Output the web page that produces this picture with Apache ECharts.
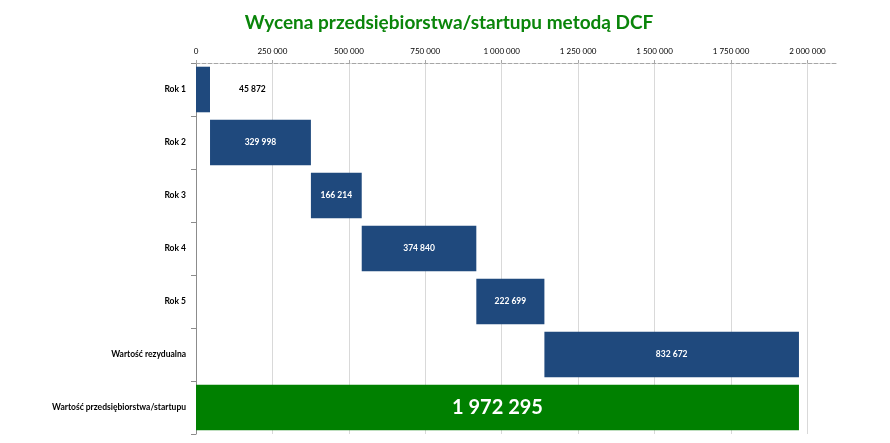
<!DOCTYPE html>
<html>
<head>
<meta charset="utf-8">
<script src="https://cdn.jsdelivr.net/npm/echarts@6/dist/echarts.min.js"></script>
<style>
  html, body { margin: 0; padding: 0; background: #fff; }
  #chart { width: 890px; height: 443px; }
</style>
</head>
<body>
<div id="chart"></div>
<script>
const categories = ['Rok 1', 'Rok 2', 'Rok 3', 'Rok 4', 'Rok 5', 'Wartość rezydualna', 'Wartość przedsiębiorstwa/startupu'];
const values = [45872, 329998, 166214, 374840, 222699, 832672, 1972295];
const xTicks = [0, 250000, 500000, 750000, 1000000, 1250000, 1500000, 1750000, 2000000];

const fmt = v => String(Math.round(v)).replace(/\B(?=(\d{3})+(?!\d))/g, ' ');

// waterfall offsets, last one is the total starting at 0
const offsets = [];
let acc = 0;
values.forEach((v, i) => {
  if (i === values.length - 1) { offsets.push(0); return; }
  offsets.push(acc);
  acc += v;
});

const last = values.length - 1;
const font = 'Lato, "Open Sans", sans-serif';

const chart = echarts.init(document.getElementById('chart'));
chart.setOption({
  animation: false,
  title: {
    text: 'Wycena przedsiębiorstwa/startupu metodą DCF',
    left: 444,
    textAlign: 'center',
    top: 8,
    textStyle: { color: '#0a850a', fontSize: 19, fontWeight: 'bold', fontFamily: font }
  },
  grid: { left: 196, right: 52, top: 63, bottom: 9 },
  xAxis: {
    type: 'value',
    position: 'top',
    min: 0,
    max: 2100000,
    interval: 250000,
    axisLine: { show: true, lineStyle: { color: '#a6a6a6', type: 'dashed', width: 1 } },
    axisTick: { show: true, length: 3, customValues: xTicks, lineStyle: { color: '#a6a6a6' } },
    axisLabel: {
      fontSize: 8, color: '#000', fontFamily: font, margin: 8,
      customValues: xTicks,
      formatter: v => fmt(v)
    },
    splitLine: {
      show: true,
      lineStyle: {
        color: xTicks.map(() => '#d9d9d9').concat(['rgba(0,0,0,0)']),
        width: 1
      }
    }
  },
  yAxis: {
    type: 'category',
    inverse: true,
    data: categories,
    axisLine: { show: true, lineStyle: { color: '#8c8c8c' } },
    axisTick: { show: true, length: 5, lineStyle: { color: '#8c8c8c' } },
    axisLabel: { fontSize: 8.5, fontWeight: 'bold', color: '#000', fontFamily: font, margin: 10 }
  },
  series: [
    {
      type: 'bar',
      stack: 'wf',
      data: offsets,
      itemStyle: { color: 'rgba(0,0,0,0)' },
      silent: true,
      barCategoryGap: '14%'
    },
    {
      type: 'bar',
      stack: 'wf',
      barCategoryGap: '14%',
      data: values.map((v, i) => ({
        value: v,
        itemStyle: { color: i === last ? '#008000' : '#1f497d' },
        label: i === 0
          ? { position: 'right', distance: 29, color: '#000' }
          : i === last
            ? { fontSize: 20, color: '#fff' }
            : {}
      })),
      label: {
        show: true,
        position: 'inside',
        color: '#fff',
        fontSize: 8.5,
        fontWeight: 'bold',
        fontFamily: font,
        formatter: p => fmt(p.value)
      }
    }
  ]
});
</script>
</body>
</html>
